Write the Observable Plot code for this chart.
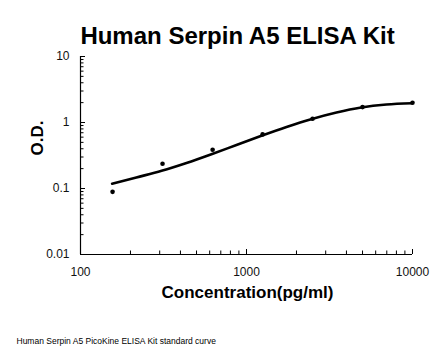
<!DOCTYPE html>
<html><head><meta charset="utf-8">
<script src="https://cdn.jsdelivr.net/npm/d3@7"></script>
<script src="https://cdn.jsdelivr.net/npm/@observablehq/plot@0.6"></script>
<style>body{margin:0;background:#fff}</style>
</head><body><div id="chart"></div>
<script>
const title = "Human Serpin A5 ELISA Kit";
const xLabel = "Concentration(pg/ml)";
const yLabel = "O.D.";
const caption = "Human Serpin A5 PicoKine ELISA Kit standard curve";

const concentrations = [156, 312, 625, 1250, 2500, 5000, 10000];
const odValues = [0.089, 0.237, 0.386, 0.66, 1.14, 1.71, 1.99];

const curveConc = [155, 217, 308, 435, 615, 870, 1230, 1742, 2450, 3483, 4910, 6966, 9900];
const curveOD = [0.118, 0.147, 0.185, 0.243, 0.330, 0.456, 0.629, 0.855, 1.122, 1.417, 1.688, 1.874, 1.961];

const xMajorTicks = [100, 1000, 10000];
const xMinorTicks = [200, 300, 400, 500, 600, 700, 800, 900, 2000, 3000, 4000, 5000, 6000, 7000, 8000, 9000];
const yMajorTicks = [0.01, 0.1, 1, 10];
const yMinorTicks = [0.02, 0.03, 0.04, 0.05, 0.06, 0.07, 0.08, 0.09, 0.2, 0.3, 0.4, 0.5, 0.6, 0.7, 0.8, 0.9, 2, 3, 4, 5, 6, 7, 8, 9];

const points = concentrations.map((c, i) => ({conc: c, od: odValues[i]}));
const curve = curveConc.map((c, i) => ({conc: c, od: curveOD[i]}));

const W = 446, H = 356, mL = 80, mR = 34, mT = 56, mB = 102;
const frameW = W - mL - mR, frameH = H - mT - mB;

const chart = Plot.plot({
  width: W,
  height: H,
  marginLeft: mL,
  marginRight: mR,
  marginTop: mT,
  marginBottom: mB,
  style: {fontFamily: "'Liberation Sans', Arial, sans-serif", fontSize: "12px", color: "#111", background: "#fff"},
  x: {type: "log", domain: [100, 10000]},
  y: {type: "log", domain: [0.01, 10]},
  marks: [
    Plot.axisX(xMajorTicks, {tickSize: 0, tickPadding: 13, tickFormat: d => String(d), label: null, fontSize: 12}),
    Plot.axisY(yMajorTicks, {tickSize: 0, tickPadding: 11, tickFormat: d => String(d), label: null, fontSize: 12}),
    Plot.ruleX(xMajorTicks, {x: d => d, insetTop: frameH - 5, stroke: "#000", strokeWidth: 1}),
    Plot.ruleX(xMinorTicks, {x: d => d, insetTop: frameH - 3.5, stroke: "#000", strokeWidth: 1}),
    Plot.ruleY(yMajorTicks, {y: d => d, insetRight: frameW - 5, stroke: "#000", strokeWidth: 1}),
    Plot.ruleY(yMinorTicks, {y: d => d, insetRight: frameW - 3.5, stroke: "#000", strokeWidth: 1}),
    Plot.ruleY([0.01], {stroke: "#000", strokeWidth: 1.2}),
    Plot.ruleX([100], {stroke: "#000", strokeWidth: 1.2}),
    Plot.line(curve, {x: "conc", y: "od", curve: "monotone-x", stroke: "#000", strokeWidth: 2.6}),
    Plot.dot(points, {x: "conc", y: "od", r: 2.3, fill: "#000", stroke: "none"}),
    Plot.text([title], {frameAnchor: "top", dx: -9, dy: -13, lineAnchor: "bottom", fontSize: 24, fontWeight: "bold", fill: "#000"}),
    Plot.text([xLabel], {frameAnchor: "bottom", dx: 1, dy: 43, lineAnchor: "bottom", fontSize: 17, fontWeight: "bold", fill: "#000"}),
    Plot.text([yLabel], {frameAnchor: "left", dx: -43, rotate: -90, lineAnchor: "middle", fontSize: 17, fontWeight: "bold", fill: "#000"}),
    Plot.text([caption], {frameAnchor: "bottom-left", dx: -64, dy: 87, textAnchor: "start", lineAnchor: "middle", fontSize: 8.5, fill: "#000"})
  ]
});
document.getElementById("chart").append(chart);
</script>
</body></html>
